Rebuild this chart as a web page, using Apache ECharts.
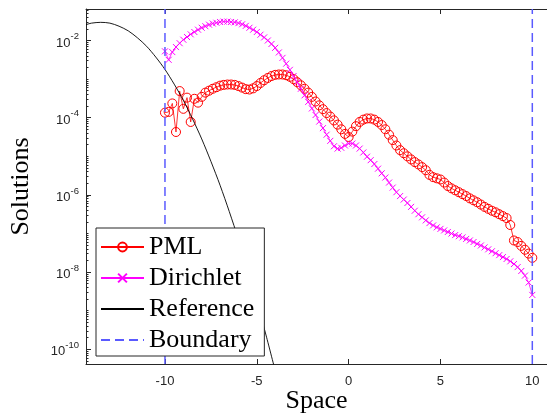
<!DOCTYPE html>
<html><head><meta charset="utf-8">
<script src="https://cdn.jsdelivr.net/npm/echarts@6/dist/echarts.min.js"></script>
<style>html,body{margin:0;padding:0;background:#fff}#c{width:547px;height:419px}</style>
</head><body><div id="c"></div>
<script>
// Space grid (x) shared by PML and Dirichlet solutions
const xs = [-10,-9.8,-9.6,-9.4,-9.2,-9,-8.8,-8.6,-8.4,-8.2,
  -8,-7.8,-7.6,-7.4,-7.2,-7,-6.8,-6.6,-6.4,-6.2,
  -6,-5.8,-5.6,-5.4,-5.2,-5,-4.8,-4.6,-4.4,-4.2,
  -4,-3.8,-3.6,-3.4,-3.2,-3,-2.8,-2.6,-2.4,-2.2,
  -2,-1.8,-1.6,-1.4,-1.2,-1,-0.8,-0.6,-0.4,-0.2,
  0,0.2,0.4,0.6,0.8,1,1.2,1.4,1.6,1.8,
  2,2.2,2.4,2.6,2.8,3,3.2,3.4,3.6,3.8,
  4,4.2,4.4,4.6,4.8,5,5.2,5.4,5.6,5.8,
  6,6.2,6.4,6.6,6.8,7,7.2,7.4,7.6,7.8,
  8,8.2,8.4,8.6,8.8,9,9.2,9.4,9.6,9.8,
  10];
// log10 of the PML solution
const pmlLog10 = [-3.87,-3.85,-3.63,-4.37,-3.31,-3.77,-3.48,-4.11,-3.51,-3.61,
  -3.46,-3.35,-3.30,-3.25,-3.21,-3.17,-3.15,-3.14,-3.14,-3.15,
  -3.18,-3.22,-3.26,-3.27,-3.24,-3.18,-3.10,-3.03,-2.97,-2.92,
  -2.89,-2.88,-2.88,-2.90,-2.94,-3.00,-3.08,-3.16,-3.25,-3.35,
  -3.46,-3.58,-3.68,-3.78,-3.88,-3.97,-4.07,-4.18,-4.30,-4.42,
  -4.50,-4.36,-4.22,-4.11,-4.05,-4.02,-4.02,-4.05,-4.11,-4.19,
  -4.30,-4.44,-4.58,-4.72,-4.84,-4.92,-5.00,-5.08,-5.15,-5.21,
  -5.28,-5.36,-5.48,-5.54,-5.57,-5.60,-5.68,-5.77,-5.83,-5.88,
  -5.93,-5.98,-6.03,-6.09,-6.14,-6.19,-6.25,-6.31,-6.36,-6.41,
  -6.45,-6.50,-6.55,-6.60,-6.78,-7.18,-7.22,-7.32,-7.42,-7.52,
  -7.63];
// log10 of the Dirichlet solution
const dirLog10 = [-2.28,-2.50,-2.30,-2.17,-2.07,-1.98,-1.91,-1.84,-1.78,-1.72,
  -1.67,-1.63,-1.59,-1.56,-1.54,-1.52,-1.51,-1.51,-1.52,-1.53,
  -1.55,-1.58,-1.62,-1.67,-1.72,-1.78,-1.85,-1.92,-2.00,-2.09,
  -2.19,-2.31,-2.45,-2.60,-2.76,-2.92,-3.08,-3.25,-3.42,-3.59,
  -3.76,-3.93,-4.10,-4.27,-4.44,-4.60,-4.74,-4.80,-4.78,-4.72,
  -4.67,-4.67,-4.72,-4.80,-4.90,-5.01,-5.10,-5.20,-5.32,-5.44,
  -5.55,-5.68,-5.81,-5.93,-6.03,-6.12,-6.21,-6.31,-6.41,-6.50,
  -6.58,-6.66,-6.73,-6.79,-6.84,-6.88,-6.92,-6.96,-7.00,-7.04,
  -7.07,-7.10,-7.14,-7.18,-7.22,-7.27,-7.31,-7.36,-7.41,-7.46,
  -7.51,-7.56,-7.61,-7.66,-7.72,-7.79,-7.87,-7.97,-8.09,-8.27,
  -8.59];
// Reference solution (x, log10 y)
const refX = [-14.3,-14,-13.5,-13,-12.5,-12,-11.5,-11,-10.5,-10,-9.5,-9,-8.5,-8,-7.5,-7,-6.5,-6,-5.5,-5,-4.5,-4];
const refLog10 = [-1.59,-1.55,-1.53,-1.55,-1.63,-1.75,-1.93,-2.15,-2.43,-2.75,-3.13,-3.55,-4.03,-4.55,-5.13,-5.75,-6.43,-7.15,-7.93,-8.75,-9.63,-10.55];
const boundaryX = [-10, 10];
const xTicks = [-10, -5, 0, 5, 10];
const yTickExp = [-10, -8, -6, -4, -2];

const X_MIN = -14.3, X_MAX = 10.8;
const Y_MIN = Math.pow(10, -10.38), Y_MAX = Math.pow(10, -1.184);
const AX = '#262626';
const SANS = 'Liberation Sans, Arial, sans-serif';
const SERIF = 'Liberation Serif, Times New Roman, serif';
const CLEAR = 'rgba(255,255,255,0)';

const yMajor = yTickExp.map(e => Math.pow(10, e));
const yMinor = [];
for (let e = -11; e <= -1; e++) {
  for (let m = 1; m <= 9; m++) {
    if (m === 1 && yTickExp.indexOf(e) >= 0) continue;
    yMinor.push(m * Math.pow(10, e));
  }
}

const toPts = (X, L) => X.map((x, i) => [x, Math.pow(10, L[i])]);

const chart = echarts.init(document.getElementById('c'), null, {renderer: 'canvas'});
chart.setOption({
  animation: false,
  backgroundColor: '#fff',
  grid: {left: 86, right: 0, top: 9, bottom: 53, containLabel: false},
  xAxis: [{
    type: 'value', min: X_MIN, max: X_MAX, position: 'bottom',
    name: 'Space', nameLocation: 'middle', nameGap: 24, nameMoveOverlap: false,
    nameTextStyle: {fontFamily: SERIF, fontSize: 26, color: '#000', verticalAlign: 'top'},
    axisLine: {show: true, onZero: false, lineStyle: {color: AX, width: 1}},
    axisTick: {show: true, inside: true, length: 5, lineStyle: {color: AX}, customValues: xTicks},
    axisLabel: {show: true, customValues: xTicks, fontFamily: SANS, fontSize: 13, color: AX, margin: 11},
    splitLine: {show: false}
  }, {
    type: 'value', min: X_MIN, max: X_MAX, position: 'top',
    axisLine: {show: true, onZero: false, lineStyle: {color: AX, width: 1}},
    axisTick: {show: true, inside: true, length: 5, lineStyle: {color: AX}, customValues: xTicks},
    axisLabel: {show: false}, splitLine: {show: false}
  }],
  yAxis: [{
    type: 'log', logBase: 10, min: Y_MIN, max: Y_MAX, position: 'left',
    name: 'Solutions', nameLocation: 'middle', nameGap: 52, nameRotate: 90, nameMoveOverlap: false,
    nameTextStyle: {fontFamily: SERIF, fontSize: 26, color: '#000'},
    axisLine: {show: true, onZero: false, lineStyle: {color: AX, width: 1}},
    axisTick: {show: true, inside: true, length: 5, lineStyle: {color: AX}, customValues: yMajor},
    axisLabel: {
      show: true, customValues: yMajor, margin: 7,
      formatter: v => '{b|10}{s|' + Math.round(Math.log10(v)) + '}',
      rich: {
        b: {fontFamily: SANS, fontSize: 13, color: AX, lineHeight: 18, verticalAlign: 'bottom'},
        s: {fontFamily: SANS, fontSize: 9.5, color: AX, lineHeight: 18, verticalAlign: 'top'}
      }
    },
    splitLine: {show: false}
  }, {
    type: 'log', logBase: 10, min: Y_MIN, max: Y_MAX, position: 'left',
    axisLine: {show: false, onZero: false},
    axisTick: {show: true, inside: true, length: 2.5, lineStyle: {color: AX}, customValues: yMinor},
    axisLabel: {show: false}, splitLine: {show: false}
  }],
  legend: {
    data: ['PML', 'Dirichlet', 'Reference', 'Boundary'],
    orient: 'vertical', left: 96, top: 228,
    itemWidth: 43, itemHeight: 11, itemGap: 5,
    padding: [6, 10, 3, 4],
    borderColor: AX, borderWidth: 1, backgroundColor: '#fff',
    selectedMode: false,
    textStyle: {fontFamily: SERIF, fontSize: 26, color: '#000', lineHeight: 26},
    z: 20
  },
  series: [{
    name: 'PML', type: 'line', data: toPts(xs, pmlLog10),
    symbol: 'circle', symbolSize: 9, showAllSymbol: true,
    itemStyle: {color: CLEAR, borderColor: '#ff0000', borderWidth: 1},
    lineStyle: {color: '#ff0000', width: 0.8}, z: 2
  }, {
    name: 'Dirichlet', type: 'line', data: toPts(xs, dirLog10),
    symbol: 'path://M0,0L10,10M10,0L0,10', symbolSize: 6, showAllSymbol: true,
    itemStyle: {color: CLEAR, borderColor: '#ff00ff', borderWidth: 1},
    lineStyle: {color: '#ff00ff', width: 0.8}, z: 3
  }, {
    name: 'Reference', type: 'line', data: toPts(refX, refLog10),
    symbol: 'circle', symbolSize: 0, showSymbol: false, smooth: 0.3,
    itemStyle: {color: CLEAR, borderColor: CLEAR, borderWidth: 0},
    lineStyle: {color: '#000', width: 0.9}, z: 4
  }].concat(boundaryX.map(bx => ({
    name: 'Boundary', type: 'line', data: [[bx, Y_MIN], [bx, Y_MAX]],
    symbol: 'circle', symbolSize: 0, showSymbol: false,
    itemStyle: {color: CLEAR, borderColor: CLEAR, borderWidth: 0},
    lineStyle: {color: '#5a5aff', width: 1.5, type: [9, 5]}, z: 5
  })))
});
</script>
</body></html>
